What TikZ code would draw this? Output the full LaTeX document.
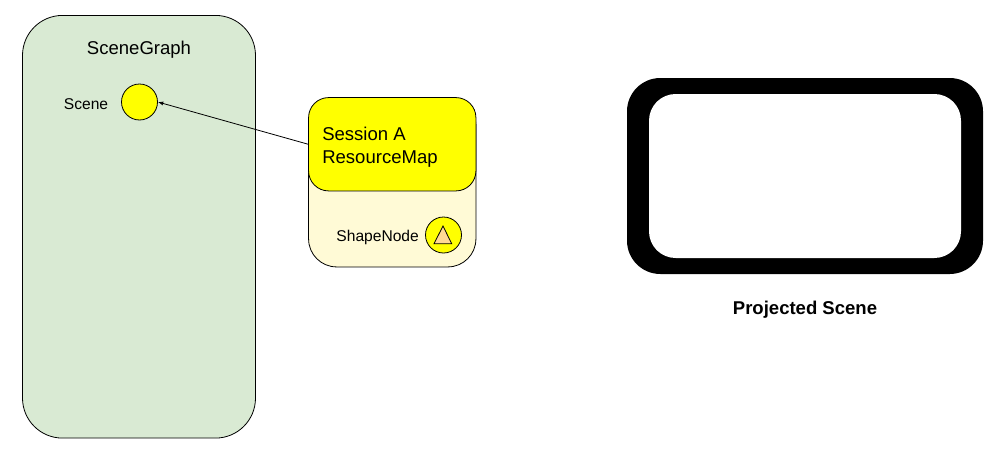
\documentclass[tikz,border=0pt]{standalone}
\usepackage{fontspec}
\setmainfont{Liberation Sans}
\usepackage{tikz}
\usetikzlibrary{positioning, arrows.meta}
\definecolor{graphgreen}{HTML}{D9EAD3}
\definecolor{mapyellow}{HTML}{FFFF00}
\definecolor{palecream}{HTML}{FFFAD6}
\definecolor{triorange}{HTML}{FFD994}

\begin{document}
\begin{tikzpicture}[
        x=0.75pt, y=-0.75pt,
        node distance=9pt, % Distance between nodes
        panel/.style={draw, line width=0.6pt, inner sep=0pt, rounded corners=#1}, % Rounded boxes
        dot/.style={circle, draw, line width=0.6pt, fill=mapyellow, minimum size=27pt, inner sep=0pt}, % Yellow circles
        smalllabel/.style={font=\fontsize{11.7}{14}\selectfont, inner sep=0pt}, % Small text
        biglabel/.style={font=\fontsize{13.9}{17.5}\selectfont, inner sep=0pt, align=left}, % Big text
        arrow/.style={-{Latex[length=4pt, width=3pt]}, line width=0.6pt} % Arrow style
    ]
    \useasboundingbox (0,0) rectangle (993,457);

    % Scene graph
    \node (graph) [panel=30pt, fill=graphgreen, minimum width=174.75pt, minimum height=317pt] at (139,226.75) {};
    \node (graphtitle) [biglabel] at (139,50) {SceneGraph};
    \node (scene) [dot] at (139.5,102) {};
    \node (scenetext) [smalllabel, left=9.5pt of scene, yshift=-1.5pt] {Scene};

    % Session resource map
    \node (session) [panel=21pt, fill=palecream, minimum width=125.5pt, minimum height=127pt] at (392.25,182.25) {};
    \node (resmap) [panel=15pt, fill=mapyellow, minimum width=125.5pt, minimum height=70pt] at (392.25,144.25) {};
    \node (resmaptext) [biglabel, anchor=west] at (322,147.5) {Session A\\ResourceMap};
    \node (shape) [dot] at (443.5,235) {};
    \node (shapetext) [smalllabel, left=4.5pt of shape, yshift=-1.9pt] {ShapeNode};
    \draw[fill=triorange, line width=0.6pt] (434,243.7) -- (443,226) -- (451.7,243.7) -- cycle;

    % Projected scene
    \node (frame) [fill=black, rounded corners=25pt, inner sep=0pt, minimum width=267pt, minimum height=147pt] at (805,176) {};
    \node (screen) [fill=white, rounded corners=20pt, inner sep=0pt, minimum width=234pt, minimum height=123pt] at (805,176) {};
    \node (frametext) [biglabel, font=\fontsize{13.9}{17}\selectfont\bfseries] at (805,310) {Projected Scene};

    % Connection
    \draw[arrow] (resmap.west) -- (scene.east);

\end{tikzpicture}
\end{document}
